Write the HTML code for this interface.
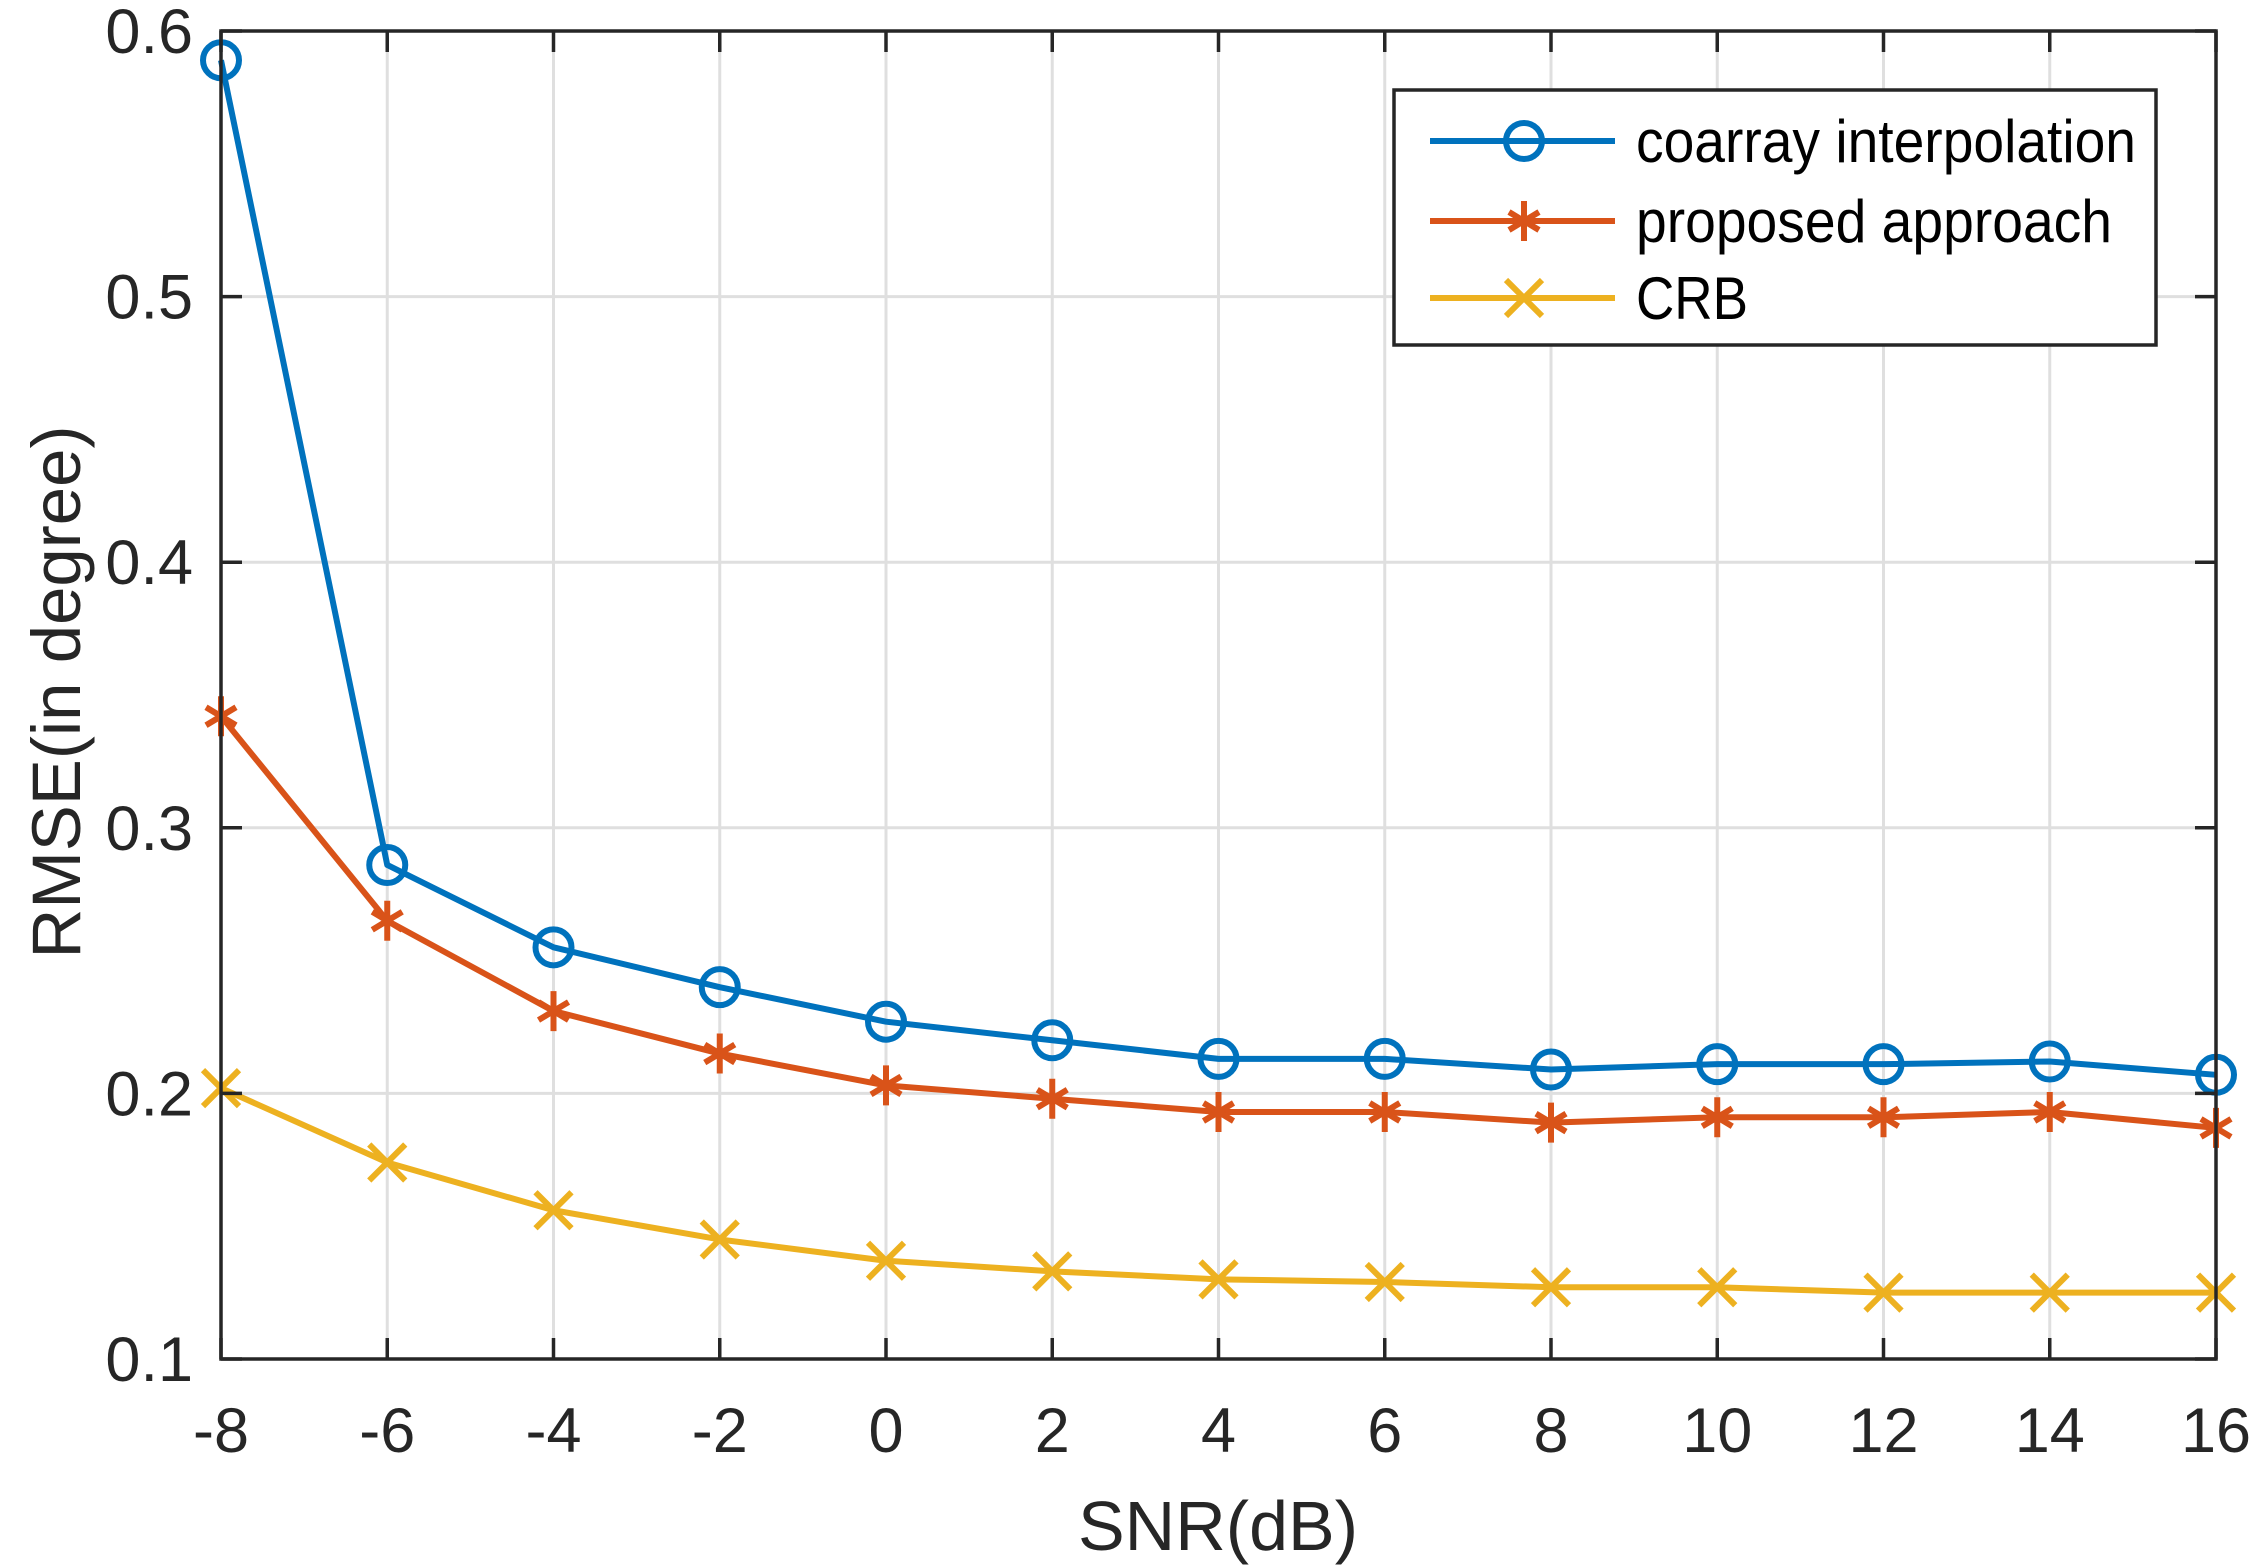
<!DOCTYPE html>
<html><head><meta charset="utf-8"><style>
html,body{margin:0;padding:0;background:#fff;}
svg{display:block;font-family:"Liberation Sans",sans-serif;}
</style></head><body>
<svg id="chart" width="2257" height="1567" viewBox="0 0 2257 1567" xmlns="http://www.w3.org/2000/svg">
<rect x="0" y="0" width="2257" height="1567" fill="#fff"/>
<g id="grid"></g>
<g id="series"></g>
<g id="axes"></g>
<text x="1218" y="1550" font-size="70" text-anchor="middle" fill="#262626">SNR(dB)</text>
<text transform="translate(80,692) rotate(-90)" font-size="69" text-anchor="middle" fill="#262626">RMSE(in degree)</text>
<g id="legend"></g>
</svg>
<script>
const snr = [-8,-6,-4,-2,0,2,4,6,8,10,12,14,16];
const coarray = [0.589,0.286,0.255,0.240,0.227,0.220,0.213,0.213,0.209,0.211,0.211,0.212,0.207];
const proposed = [0.342,0.265,0.231,0.215,0.203,0.198,0.193,0.193,0.189,0.191,0.191,0.193,0.187];
const crb = [0.202,0.174,0.156,0.145,0.137,0.133,0.130,0.129,0.127,0.127,0.125,0.125,0.125];
const xTicks = [-8,-6,-4,-2,0,2,4,6,8,10,12,14,16];
const yTicks = [0.1,0.2,0.3,0.4,0.5,0.6];
const yTickLabels = ["0.1","0.2","0.3","0.4","0.5","0.6"];
const seriesNames = ["coarray interpolation","proposed approach","CRB"];

const L=221,R=2216,T=31,B=1359;
const NS='http://www.w3.org/2000/svg';
function xs(v){return L+(v+8)/24*(R-L);}
function ys(v){return B-(v-0.1)/0.5*(B-T);}
function mk(tag,attrs,parent){const e=document.createElementNS(NS,tag);for(const k in attrs)e.setAttribute(k,attrs[k]);parent.appendChild(e);return e;}
const grid=document.getElementById('grid'),axes=document.getElementById('axes'),ser=document.getElementById('series'),leg=document.getElementById('legend');

xTicks.forEach((t,i)=>{
  const x=xs(t);
  if(i>0&&i<xTicks.length-1){
    const g=mk('line',{x1:x,x2:x,y1:T,y2:B,stroke:'#dfdfdf','stroke-width':3},grid);
    
    
  }
  const a=mk('line',{x1:x,x2:x,y1:B,y2:B-21,stroke:'#262626','stroke-width':3.5},axes);
  
  
  const b=mk('line',{x1:x,x2:x,y1:T,y2:T+21,stroke:'#262626','stroke-width':3.5},axes);
  
  
  const tx=mk('text',{x:x,y:1452,'font-size':63,'text-anchor':'middle',fill:'#262626'},axes);
  tx.textContent=String(t);
  
  
});
yTicks.forEach((t,i)=>{
  const y=ys(t);
  if(i>0&&i<yTicks.length-1){
    const g=mk('line',{x1:L,x2:R,y1:y,y2:y,stroke:'#dfdfdf','stroke-width':3},grid);
    
    
  }
  const a=mk('line',{x1:L,x2:L+21,y1:y,y2:y,stroke:'#262626','stroke-width':3.5},axes);
  
  
  const b=mk('line',{x1:R,x2:R-21,y1:y,y2:y,stroke:'#262626','stroke-width':3.5},axes);
  
  
  const tx=mk('text',{x:193,y:y+22,'font-size':63,'text-anchor':'end',fill:'#262626'},axes);
  tx.textContent=yTickLabels[i];
  
  
});
const box=mk('rect',{x:L,y:T,width:R-L,height:B-T,fill:'none',stroke:'#262626','stroke-width':3.5},axes);



function marker(type,x,y,color,parent){
  let e;
  if(type==='o'){
    e=mk('circle',{cx:x,cy:y,r:18,fill:'none',stroke:color,'stroke-width':6},parent);
  } else if(type==='*'){
    const s=20,d=s*0.75;
    e=mk('path',{d:`M${x} ${y-s}L${x} ${y+s}M${x-d} ${y-d*0.6}L${x+d} ${y+d*0.6}M${x-d} ${y+d*0.6}L${x+d} ${y-d*0.6}`,stroke:color,'stroke-width':6,fill:'none'},parent);
  } else {
    const s=18;
    e=mk('path',{d:`M${x-s} ${y-s}L${x+s} ${y+s}M${x-s} ${y+s}L${x+s} ${y-s}`,stroke:color,'stroke-width':6,fill:'none'},parent);
  }
  return e;
}
const allSeries=[[coarray,'#0072BD','o','coarray'],[proposed,'#D95319','*','proposed'],[crb,'#EDB120','x','crb']];
allSeries.forEach(([vals,color,m,nm])=>{
  const pts=vals.map((v,i)=>xs(snr[i])+','+ys(v)).join(' ');
  const pl=mk('polyline',{points:pts,fill:'none',stroke:color,'stroke-width':6,'stroke-linejoin':'round'},ser);
  
  
  vals.forEach((v,i)=>{
    const e=marker(m,xs(snr[i]),ys(v),color,ser);
    
    
  });
});

const lb=mk('rect',{x:1394,y:90,width:762,height:255,fill:'#fff',stroke:'#262626','stroke-width':3.5},leg);


const ly=[141,221,298],lw=[500,476,112];
allSeries.forEach(([vals,color,m,nm],i)=>{
  const g=mk('g',{},leg);
  
  
  mk('line',{x1:1430,x2:1615,y1:ly[i],y2:ly[i],stroke:color,'stroke-width':6},g);
  marker(m,1524,ly[i],color,g);
  const t=mk('text',{x:1636,y:ly[i]+21,'font-size':60,fill:'#000',textLength:lw[i],lengthAdjust:'spacingAndGlyphs'},g);
  t.textContent=seriesNames[i];
  
  
});
</script>
</body></html>
